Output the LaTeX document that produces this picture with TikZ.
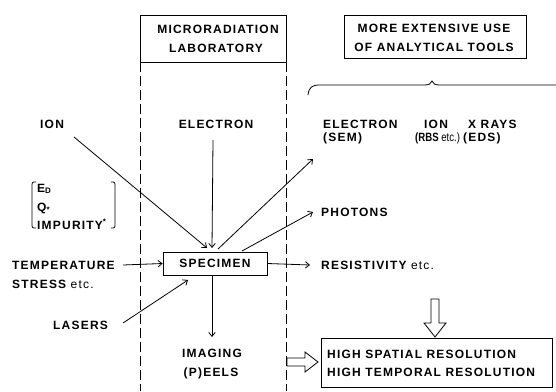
\documentclass[tikz,border=0pt]{standalone}
\usepackage{fontspec}
\setmainfont{Liberation Sans}[LetterSpace=10]
\usetikzlibrary{arrows.meta}
\begin{document}
\begin{tikzpicture}[x=1pt,y=-1pt,
  lab/.style={inner sep=0pt, anchor=base west, font=\fontsize{12}{14}\selectfont\bfseries},
  labc/.style={lab, anchor=base},
  conn/.style={line width=0.8pt, -{Straight Barb[length=4pt,width=6.5pt]}},
  frame/.style={line width=0.8pt},
  dashln/.style={line width=0.8pt, dash pattern=on 10pt off 4pt},
  hollow/.style={line width=0.8pt, fill=white}]
\useasboundingbox (0,0) rectangle (556,391);
% boxes
\draw[frame] (140,62) -- (140,15) -- (286,15) -- (286,62) -- cycle;
\coordinate (mlt) at (140,62); \coordinate (mlb) at (140,391);
\coordinate (mrt) at (286,62); \coordinate (mrb) at (286,391);
\draw[dashln] (mlt) -- (mlb);
\draw[dashln] (mrt) -- (mrb);
\node[labc] (micro) at (218,33) {MICRORADIATION};
\node[labc] (lab) at (216,52) {LABORATORY};
\draw[frame] (344,15) rectangle (526,58);
\node[labc] (more) at (434,32) {MORE EXTENSIVE USE};
\node[labc] (ofan) at (434,51) {OF ANALYTICAL TOOLS};
% brace
\draw[frame] (308,95) .. controls (309,87) and (312,85) .. (320,85) -- (424,85)
  .. controls (429,85) and (431,84) .. (432,81) .. controls (433,84) and (435,85) .. (440,85) -- (556,85);
% left labels
\node[lab] (ionl) at (40,128) {ION};
\node[labc] (elm) at (216,128) {ELECTRON};
\node[lab] (elr) at (323,128) {ELECTRON};
\node[lab] (sem) at (323,141) {(SEM)};
\node[lab] (ionr) at (424,128) {ION};
\node[lab] (rbs) at (415,141) {\scalebox{0.8}[1]{\addfontfeature{LetterSpace=0}(RBS \mdseries etc.)}};
\node[lab] (xr) at (468,128) {X RAYS};
\node[lab] (eds) at (463,141) {(EDS)};
\node[lab] (ed) at (37,192) {E\textsubscript{D}};
\node[lab] (qs) at (37,211) {Q\textsubscript{*}};
\node[lab] (imp) at (37,229) {IMPURITY\textsuperscript{*}};
\draw[frame] (36,182) .. controls (32,182) .. (32,187) -- (32,223) .. controls (32,228) .. (36,228);
\draw[frame] (111,182) .. controls (115,182) .. (115,187) -- (115,223) .. controls (115,228) .. (111,228);
\node[lab] (temp) at (12,269) {TEMPERATURE};
\node[lab] (stress) at (12,288) {STRESS \mdseries etc.};
\node[lab] (las) at (53,329) {LASERS};
\node[frame, draw, minimum width=104pt, minimum height=23pt, inner sep=0pt,
  font=\fontsize{12}{14}\selectfont\bfseries] (spec) at (215,263.5) {SPECIMEN};
\node[labc] (img) at (212,357) {IMAGING};
\node[labc] (eels) at (211,376) {(P)EELS};
\node[lab] (phot) at (321,216) {PHOTONS};
\node[lab] (res) at (321,269) {RESISTIVITY \mdseries etc.};
% result box
\draw[frame] (321,338) rectangle (552,387);
\node[lab] (hs) at (327,358) {HIGH SPATIAL RESOLUTION};
\node[lab] (ht) at (327,376) {HIGH TEMPORAL RESOLUTION};
% connectors
\coordinate (a1) at (74,137); \coordinate (a1e) at (207,248);
\coordinate (a2) at (213,140); \coordinate (a2e) at (212,248);
\coordinate (a3) at (218,249); \coordinate (a3e) at (313,159);
\coordinate (a4) at (242,251); \coordinate (a4e) at (313,212);
\coordinate (a5e) at (310,265);
\coordinate (a6) at (123,265);
\coordinate (a7) at (123,323); \coordinate (a7e) at (188,280);
\coordinate (a8e) at (212,337);
\draw[conn] (a1) -- (a1e);
\draw[conn] (a2) -- (a2e);
\draw[conn] (a3) -- (a3e);
\draw[conn] (a4) -- (a4e);
\draw[conn] (spec.east) -- (a5e);
\draw[conn] (a6) -- (spec.west);
\draw[conn] (a7) -- (a7e);
\draw[conn] (212,275) -- (a8e);
% hollow arrows
\draw[hollow] (431,299) -- (439,299) -- (439,323) -- (446,323) -- (435,337) -- (424,323) -- (431,323) -- cycle;
\draw[hollow] (287,358) -- (305,358) -- (305,352) -- (318,362) -- (305,372) -- (305,366) -- (287,366) -- cycle;
\end{tikzpicture}
\end{document}
